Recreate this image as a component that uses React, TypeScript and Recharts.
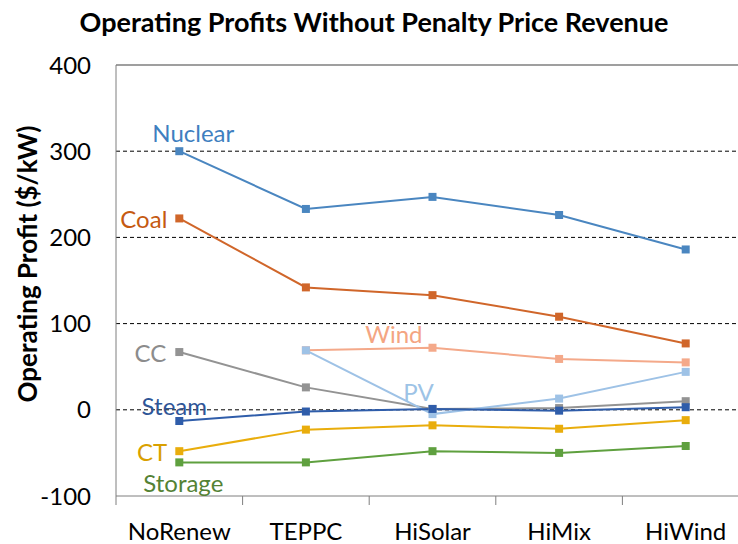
import { LineChart, Line, XAxis, YAxis, ReferenceLine } from 'recharts'

const scenarios = ['NoRenew', 'TEPPC', 'HiSolar', 'HiMix', 'HiWind']
const yTicks = [-100, 0, 100, 200, 300, 400]
const gridValues = [0, 100, 200, 300]

const nuclear = [300, 233, 247, 226, 186]
const coal = [222, 142, 133, 108, 77]
const wind = [null, 69, 72, 59, 55]
const cc = [67, 26, 1, 2, 10]
const pv = [null, 69, -5, 13, 44]
const steam = [-13, -2, 1, -1, 3]
const ct = [-48, -23, -18, -22, -12]
const storage = [-61, -61, -48, -50, -42]

const data = scenarios.map((name, i) => ({
  pos: i + 0.5,
  name,
  nuclear: nuclear[i],
  coal: coal[i],
  wind: wind[i],
  cc: cc[i],
  pv: pv[i],
  steam: steam[i],
  ct: ct[i],
  storage: storage[i],
}))

const FONT = 'Lato, "Open Sans", sans-serif'
const PLOT_LEFT = 116
const PLOT_RIGHT = 749
const HALF_BAND = (PLOT_RIGHT - PLOT_LEFT) / scenarios.length / 2

interface SeriesDef {
  key: string
  label: string
  color: string
  textColor: string
  at: number
  dx: number
  dy: number
  anchor: 'start' | 'middle' | 'end'
}

const series: SeriesDef[] = [
  { key: 'nuclear', label: 'Nuclear', color: '#4A86C0', textColor: '#3F7FBF', at: 0, dx: 14, dy: -19, anchor: 'middle' },
  { key: 'coal', label: 'Coal', color: '#D0662A', textColor: '#C55A11', at: 0, dx: -12, dy: 0, anchor: 'end' },
  { key: 'wind', label: 'Wind', color: '#F4A98A', textColor: '#F4A582', at: 1, dx: 88, dy: -17, anchor: 'middle' },
  { key: 'cc', label: 'CC', color: '#939393', textColor: '#8C8C8C', at: 0, dx: -13, dy: 0, anchor: 'end' },
  { key: 'pv', label: 'PV', color: '#9EC2E6', textColor: '#9DC3E6', at: 2, dx: -14, dy: -23, anchor: 'middle' },
  { key: 'steam', label: 'Steam', color: '#2F5DAA', textColor: '#2F5597', at: 0, dx: -5, dy: -16, anchor: 'middle' },
  { key: 'ct', label: 'CT', color: '#E9AD0C', textColor: '#D9A000', at: 0, dx: -12, dy: 0, anchor: 'end' },
  { key: 'storage', label: 'Storage', color: '#5FA03F', textColor: '#548235', at: 0, dx: 4, dy: 20, anchor: 'middle' },
]

const SquareDot = (color: string) => (props: any) => {
  const { cx, cy, index } = props
  if (cx == null || cy == null || props.value == null) return <g key={`d-${index}`} />
  return <rect key={`d-${index}`} x={cx - 4} y={cy - 4} width={8} height={8} fill={color} />
}

const makeLabel = (s: SeriesDef) => (props: any) => {
  const { x, y, index } = props
  if (index !== s.at || x == null || y == null) return <g key={`l-${index}`} />
  return (
    <text
      key={`l-${index}`}
      x={x + s.dx}
      y={y + s.dy}
      textAnchor={s.anchor}
      dominantBaseline="central"
      fill={s.textColor}
      fontSize={24}
      fontFamily={FONT}
    >
      {s.label}
    </text>
  )
}

const CategoryTick = (props: any) => {
  const { x, y, payload } = props
  const name = scenarios[payload.value]
  if (!name) return <g />
  return (
    <text
      x={x + HALF_BAND}
      y={y + 33}
      textAnchor="middle"
      fill="#000"
      fontSize={24}
      fontFamily={FONT}
    >
      {name}
    </text>
  )
}

export default function App() {
  return (
    <div style={{ position: 'absolute', left: 0, top: 0, width: 738, height: 544, overflow: 'hidden', background: '#fff' }}>
      <div
        style={{
          position: 'absolute',
          left: 0,
          top: 5,
          width: 748,
          textAlign: 'center',
          fontFamily: FONT,
          fontWeight: 700,
          fontSize: 27,
          color: '#000',
        }}
      >
        Operating Profits Without Penalty Price Revenue
      </div>
      <LineChart
        width={760}
        height={544}
        data={data}
        margin={{ top: 65, right: 760 - PLOT_RIGHT, bottom: 0, left: 0 }}
      >
        <XAxis
          dataKey="pos"
          type="number"
          domain={[0, 5]}
          ticks={[0, 1, 2, 3, 4, 5]}
          height={48}
          stroke="#7F7F7F"
          tickSize={9}
          tick={CategoryTick}
          interval={0}
        />
        <YAxis
          width={PLOT_LEFT}
          domain={[-100, 400]}
          ticks={yTicks}
          stroke="#7F7F7F"
          tickLine={false}
          tickSize={0}
          tickMargin={25}
          tick={{ fill: '#000', fontSize: 24, fontFamily: FONT }}
          label={(props: any) => {
            const cy = 264
            return (
              <text
                x={27}
                y={cy}
                transform={`rotate(-90, 27, ${cy})`}
                textAnchor="middle"
                dominantBaseline="central"
                fontSize={26}
                fontWeight={700}
                fontFamily={FONT}
                fill="#000"
              >
                Operating Profit ($/kW)
              </text>
            )
          }}
        />
        {gridValues.map(v => (
          <ReferenceLine key={v} y={v} stroke="#000" strokeDasharray="4 3" strokeWidth={1} />
        ))}
        <ReferenceLine y={400} stroke="#7F7F7F" strokeWidth={1.5} />
        {series.map(s => (
          <Line
            key={s.key}
            dataKey={s.key}
            stroke={s.color}
            strokeWidth={2}
            dot={SquareDot(s.color)}
            activeDot={false}
            label={makeLabel(s)}
            isAnimationActive={false}
          />
        ))}
      </LineChart>
    </div>
  )
}
